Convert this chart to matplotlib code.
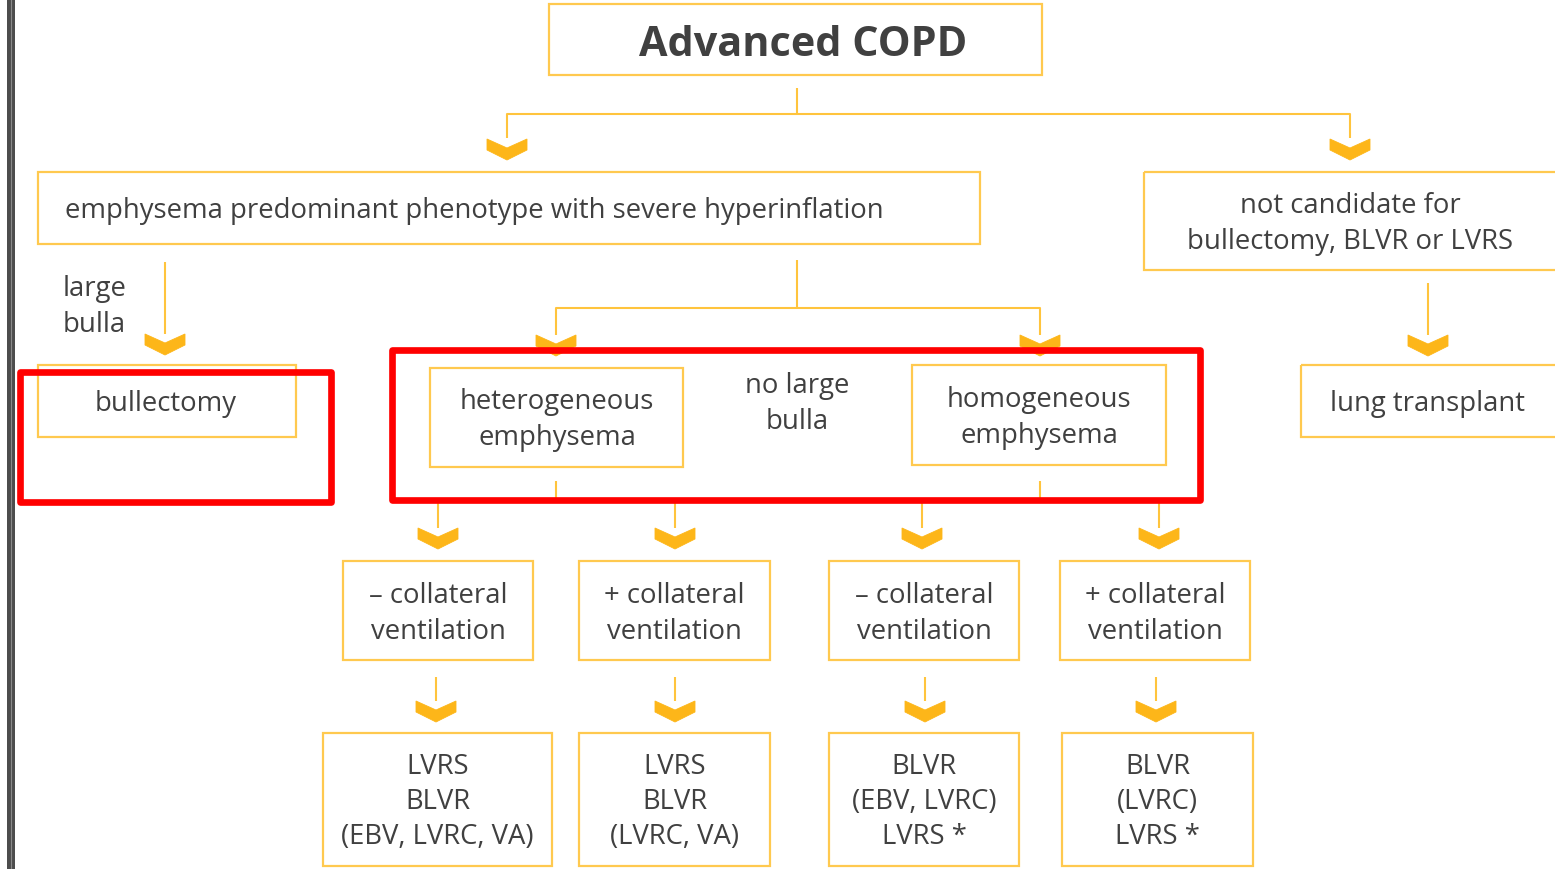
import matplotlib
matplotlib.use("Agg")
import matplotlib.pyplot as plt
from matplotlib.patches import Rectangle, Polygon

plt.rcParams['font.family'] = ['Open Sans', 'DejaVu Sans']

# ---- content ----
title_label = "Advanced COPD"
level1_labels = ["emphysema predominant phenotype with severe hyperinflation",
                 "not candidate for\nbullectomy, BLVR or LVRS"]
branch_labels = ["large\nbulla", "no large\nbulla"]
level2_labels = ["bullectomy", "heterogeneous\nemphysema", "homogeneous\nemphysema", "lung transplant"]
level3_labels = ["\u2013 collateral\nventilation", "+ collateral\nventilation",
                 "\u2013 collateral\nventilation", "+ collateral\nventilation"]
level4_labels = ["LVRS\nBLVR\n(EBV, LVRC, VA)", "LVRS\nBLVR\n(LVRC, VA)",
                 "BLVR\n(EBV, LVRC)\nLVRS *", "BLVR\n(LVRC)\nLVRS *"]

# ---- layout (pixels) ----
W, H = 1555, 869
fig = plt.figure(figsize=(W / 100, H / 100), dpi=100)
ax = fig.add_axes([0, 0, 1, 1])
ax.set_xlim(0, W)
ax.set_ylim(H, 0)
ax.axis('off')

BOX = '#FFC94F'
LINE = '#FFC43D'
CHEV = '#FDB619'
TXT = '#404040'
FS = 19.8
LS = 1.34
DY = 3  # small downward offset for text centring

def box(x0, y0, x1, y1):
    ax.add_patch(Rectangle((x0, y0), x1 - x0, y1 - y0, fill=False,
                           edgecolor=BOX, lw=1.6, zorder=2))

def line(pts):
    xs, ys = zip(*pts)
    ax.plot(xs, ys, color=LINE, lw=1.5, solid_capstyle='butt', zorder=1)

def chevron(cx, yt):
    pts = [(cx - 20, yt), (cx, yt + 9), (cx + 20, yt), (cx + 20, yt + 11),
           (cx, yt + 21), (cx - 20, yt + 11)]
    ax.add_patch(Polygon(pts, closed=True, facecolor=CHEV, edgecolor=CHEV,
                         lw=0.6, zorder=3))

def text(x, y, s, ha='center', **kw):
    ax.text(x, y + DY, s, ha=ha, va='center', color=TXT, fontsize=kw.pop('fs', FS),
            linespacing=LS, **kw)

# left border
ax.add_patch(Rectangle((7, 0), 8, H, facecolor='#4d4d4d', edgecolor='none', zorder=5))
ax.plot([11, 11], [0, H], color='#8a8a8a', lw=0.8, zorder=6)

# title
box(549, 4, 1042, 75)
text(803, 42, title_label, fs=29.8, fontweight='bold')

# title connectors
line([(797, 88), (797, 114)])
line([(507, 138), (507, 114), (1350, 114), (1350, 138)])
chevron(507, 139)
chevron(1350, 139)

# level 1
box(38, 172, 980, 244)
text(65, 208, level1_labels[0], ha='left')
box(1144, 172, 1565, 270)
text(1350, 221, level1_labels[1])

# large bulla branch
line([(165, 262), (165, 334)])
chevron(165, 334)
text(63, 304, branch_labels[0], ha='left')
box(38, 365, 296, 437)
text(166, 401, level2_labels[0])

# no large bulla branch
line([(797, 260), (797, 308)])
line([(556, 335), (556, 308), (1040, 308), (1040, 335)])
chevron(556, 335)
chevron(1040, 335)
text(797, 401, branch_labels[1])
box(430, 368, 683, 467)
text(557, 417, level2_labels[1])
box(912, 365, 1166, 465)
text(1039, 415, level2_labels[2])

# lung transplant
line([(1428, 283), (1428, 335)])
chevron(1428, 335)
box(1301, 365, 1565, 437)
text(1428, 401, level2_labels[3])

# to level 3
line([(556, 481), (556, 501)])
line([(438, 528), (438, 501), (675, 501), (675, 528)])
line([(1040, 481), (1040, 501)])
line([(922, 528), (922, 501), (1159, 501), (1159, 528)])
for cx in (438, 675, 922, 1159):
    chevron(cx, 528)

l3_boxes = [(343, 561, 533, 660), (579, 561, 770, 660),
            (829, 561, 1019, 660), (1060, 561, 1250, 660)]
for (x0, y0, x1, y1), lab in zip(l3_boxes, level3_labels):
    box(x0, y0, x1, y1)
    text((x0 + x1) / 2, 611, lab)

# to level 4
for cx in (436, 675, 925, 1156):
    line([(cx, 677), (cx, 701)])
    chevron(cx, 701)

l4_boxes = [(323, 733, 552, 866), (579, 733, 770, 866),
            (829, 733, 1019, 866), (1062, 733, 1253, 866)]
for (x0, y0, x1, y1), lab in zip(l4_boxes, level4_labels):
    box(x0, y0, x1, y1)
    text((x0 + x1) / 2, 799, lab)

# red highlight frames
for (x0, y0, x1, y1) in [(20, 372, 331, 502), (392, 350, 1200, 500)]:
    ax.add_patch(Rectangle((x0, y0), x1 - x0, y1 - y0, fill=False, edgecolor='#FF0000',
                           lw=4.8, joinstyle='round', zorder=7))

fig.savefig('out.png', dpi=100, facecolor='white')
